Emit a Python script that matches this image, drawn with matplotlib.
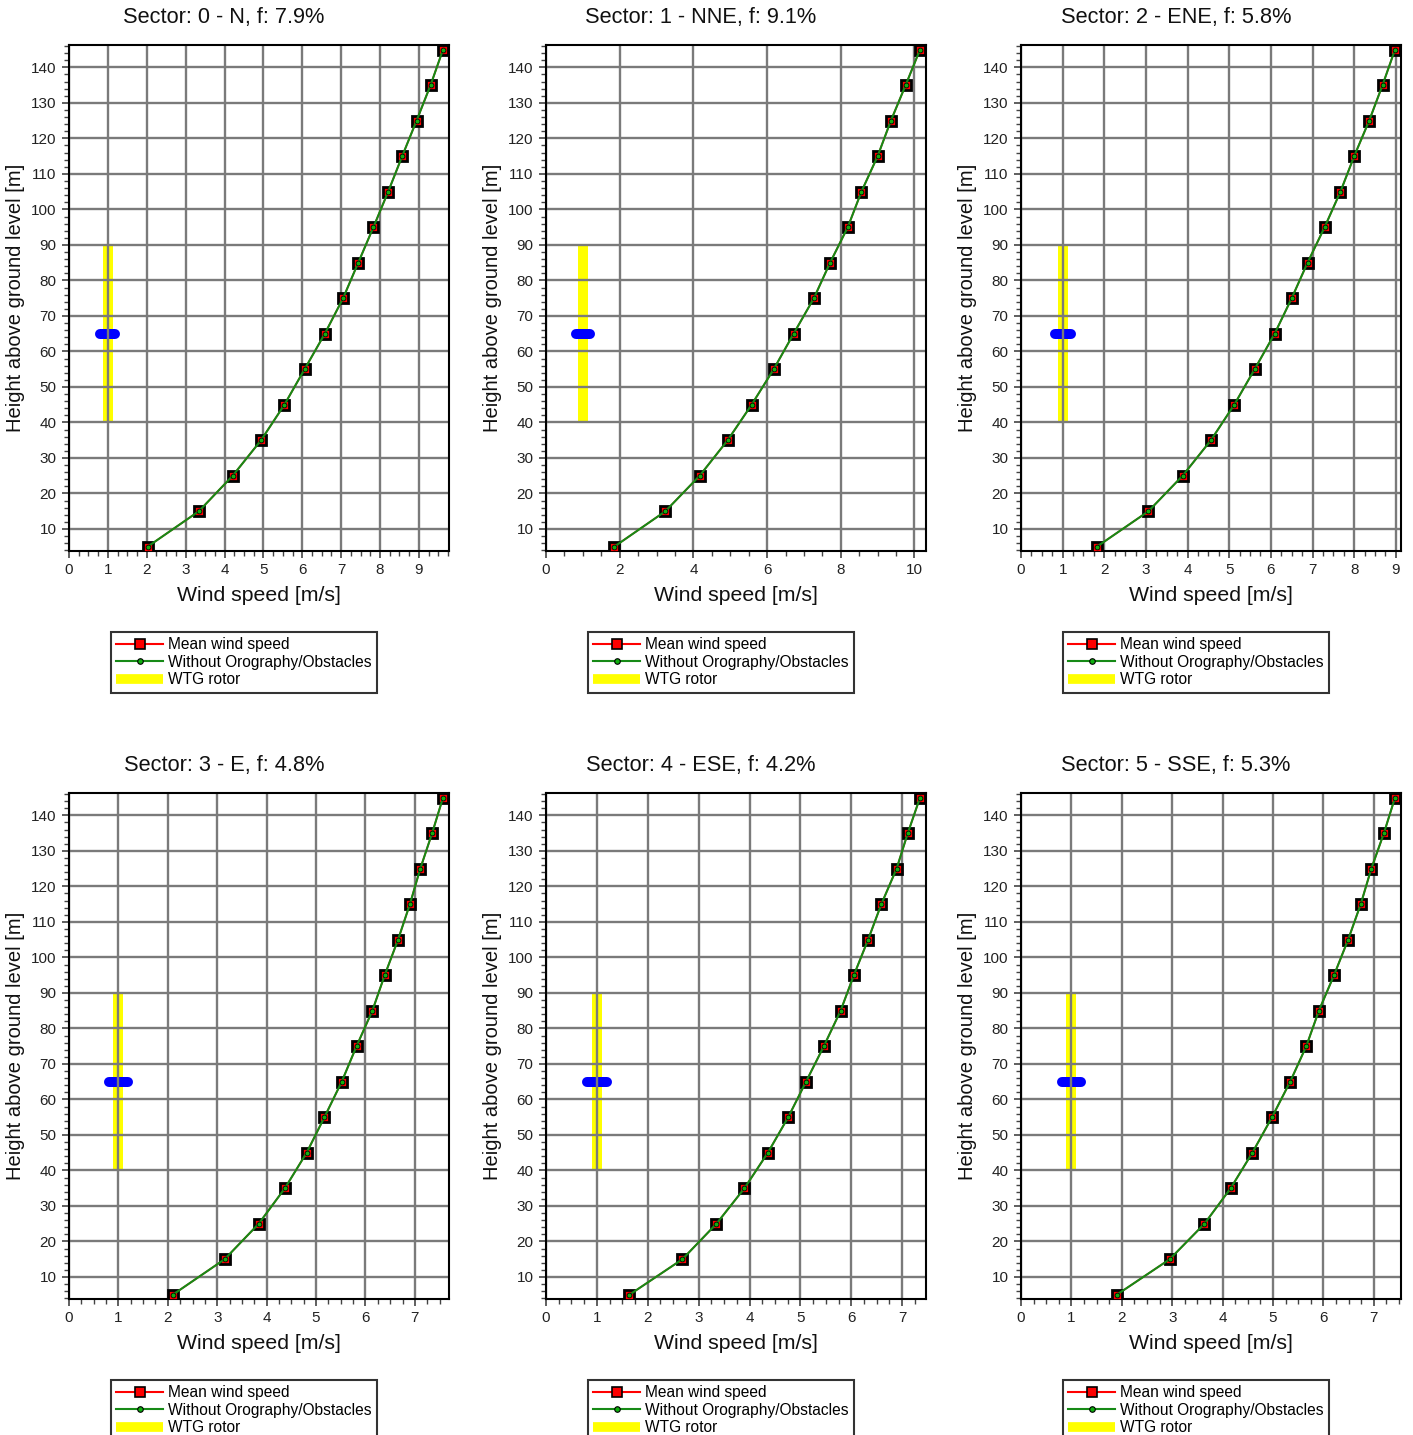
import numpy as np
import matplotlib as mpl
mpl.use('Agg')
from matplotlib import pyplot as plt
from matplotlib.ticker import MultipleLocator

plt.rcParams['font.family'] = ['Liberation Sans', 'DejaVu Sans']

# heights of the profile points [m]
heights = [5, 15, 25, 35, 45, 55, 65, 75, 85, 95, 105, 115, 125, 135, 145]

sectors = ['0 - N', '1 - NNE', '2 - ENE', '3 - E', '4 - ESE', '5 - SSE']
freqs = [7.9, 9.1, 5.8, 4.8, 4.2, 5.3]

# mean wind speed per sector [m/s] (same as without orography/obstacles)
speed_n = [2.02, 3.34, 4.21, 4.94, 5.54, 6.06, 6.58, 7.05, 7.44, 7.83, 8.21, 8.57, 8.94, 9.30, 9.62]
speed_nne = [1.85, 3.24, 4.17, 4.93, 5.58, 6.18, 6.72, 7.27, 7.71, 8.19, 8.56, 9.00, 9.36, 9.76, 10.15]
speed_ene = [1.82, 3.06, 3.88, 4.56, 5.12, 5.61, 6.09, 6.50, 6.88, 7.29, 7.67, 8.00, 8.36, 8.68, 8.98]
speed_e = [2.10, 3.15, 3.84, 4.37, 4.81, 5.17, 5.52, 5.82, 6.14, 6.39, 6.66, 6.90, 7.11, 7.35, 7.57]
speed_ese = [1.64, 2.68, 3.35, 3.90, 4.36, 4.76, 5.11, 5.46, 5.79, 6.05, 6.33, 6.59, 6.89, 7.11, 7.35]
speed_sse = [1.90, 2.95, 3.64, 4.16, 4.59, 4.98, 5.34, 5.66, 5.91, 6.21, 6.49, 6.74, 6.95, 7.20, 7.42]
speeds = [speed_n, speed_nne, speed_ene, speed_e, speed_ese, speed_sse]

# WTG rotor: hub height and rotor extent
hub_height = 65
rotor_bottom = 40
rotor_top = 90
rotor_x = 1.0

W, H = 1413, 1435
fig = plt.figure(figsize=(W / 100, H / 100), dpi=100)

cols = [69, 546, 1021]
rows = [45, 793]
aw, ah = 380, 506

for i in range(6):
    l = cols[i % 3]
    t = rows[i // 3]
    ax = fig.add_axes([l / W, 1 - (t + ah) / H, aw / W, ah / H])
    ws = speeds[i]

    # rotor + hub
    ax.plot([rotor_x, rotor_x], [rotor_bottom, rotor_top], color='#ffff00', lw=7.2,
            solid_capstyle='butt', zorder=1.1)
    ax.plot([rotor_x - 0.19, rotor_x + 0.19], [hub_height, hub_height], color='#0000ff', lw=7.2,
            solid_capstyle='round', zorder=1.2)

    ax.plot(ws, heights, color='#ff0000', lw=1.2, marker='s', ms=7, mfc='#ff0000',
            mec='black', mew=2.0, zorder=3)
    ax.plot(ws, heights, color='#168a16', lw=1.5, marker='o', ms=3.5, mfc='#10b010',
            mec='black', mew=0.6, zorder=4)

    step = 2 if max(ws) > 10 else 1
    ax.set_xlim(0, max(ws) * 1.016)
    ax.set_ylim(3.8, 146.3)
    ax.xaxis.set_major_locator(MultipleLocator(step))
    ax.xaxis.set_minor_locator(MultipleLocator(step / 4 if step == 1 else 0.5))
    ax.yaxis.set_major_locator(MultipleLocator(10))
    ax.yaxis.set_minor_locator(MultipleLocator(2))
    ax.set_yticks(np.arange(10, 141, 10))

    ax.grid(True, which='major', color='#7a7a7a', lw=1.7)
    ax.set_axisbelow('line')
    for sp in ax.spines.values():
        sp.set_color('black')
        sp.set_linewidth(1.5)

    ax.tick_params(which='major', length=5, width=1.2, color='#444444', labelsize=11,
                   labelcolor='#222222', pad=4)
    ax.tick_params(which='minor', length=3.5, width=1.0, color='#444444')

    ax.set_xlabel('Wind speed [m/s]', fontsize=15.3, labelpad=6, color='#111111')
    ax.set_ylabel('Height above ground level [m]', fontsize=14.5, labelpad=4, color='#111111')

    fig.text((l + aw / 2 - 35) / W, 1 - (t - 27) / H,
             'Sector: %s, f: %.1f%%' % (sectors[i], freqs[i]),
             ha='center', va='center', fontsize=15.7, color='#111111')

    # legend proxies
    h1, = ax.plot([], [], color='#ff0000', lw=1.5, marker='s', ms=7, mfc='#ff0000',
                  mec='black', mew=1.2)
    h2, = ax.plot([], [], color='#168a16', lw=1.5, marker='o', ms=4, mfc='#10b010',
                  mec='black', mew=0.8)
    h3, = ax.plot([], [], color='#ffff00', lw=7, solid_capstyle='butt')
    leg = ax.legend([h1, h2, h3], ['Mean wind speed', 'Without Orography/Obstacles', 'WTG rotor'],
                    loc='upper center',
                    bbox_to_anchor=((l + aw / 2 - 15) / W, 1 - (t + ah + 81) / H),
                    bbox_transform=fig.transFigure, fontsize=11.2, frameon=True,
                    fancybox=False, edgecolor='black', borderpad=0.35, labelspacing=0.15,
                    handlelength=3.0, handletextpad=0.35, borderaxespad=0)
    leg.get_frame().set_linewidth(1.5)

plt.savefig('out.png', dpi=100)
